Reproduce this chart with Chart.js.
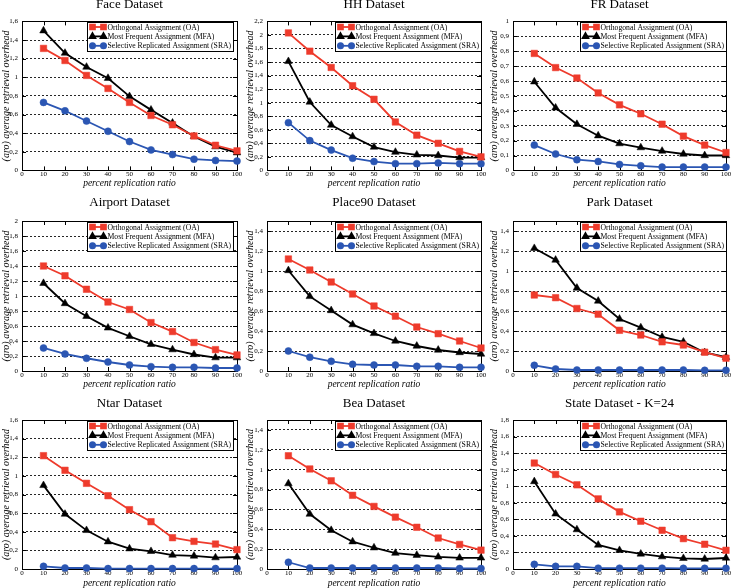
<!DOCTYPE html>
<html>
<head>
<meta charset="utf-8">
<script src="https://cdn.jsdelivr.net/npm/chart.js@4.4.0/dist/chart.umd.min.js"></script>
<style>
  html, body { margin: 0; padding: 0; background: #fff; overflow: hidden; }
  #page { position: relative; width: 732px; height: 588px; }
  #page canvas { position: absolute; }
</style>
</head>
<body>
<div id="page"></div>
<script>
// du lieu doc tu hinh
const xValues = [10, 20, 30, 40, 50, 60, 70, 80, 90, 100];
const seriesNames = ['Orthogonal Assignment (OA)', 'Most Frequent Assignment (MFA)', 'Selective Replicated Assignment (SRA)'];
const panelTitles = ['Face Dataset', 'HH Dataset', 'FR Dataset', 'Airport Dataset', 'Place90 Dataset', 'Park Dataset', 'Ntar Dataset', 'Bea Dataset', 'State Dataset - K=24'];
const yMaxes = [1.6, 2.2, 1, 2, 1.5, 1.5, 1.6, 1.5, 1.8];
const ySteps = [0.2, 0.2, 0.1, 0.2, 0.2, 0.2, 0.2, 0.2, 0.2];

const faceOA  = [1.31, 1.18, 1.02, 0.88, 0.73, 0.59, 0.49, 0.37, 0.27, 0.21];
const faceMFA = [1.50, 1.26, 1.11, 0.99, 0.795, 0.65, 0.51, 0.365, 0.255, 0.19];
const faceSRA = [0.73, 0.64, 0.53, 0.42, 0.31, 0.22, 0.17, 0.12, 0.107, 0.10];

const hhOA  = [2.03, 1.76, 1.52, 1.25, 1.05, 0.715, 0.52, 0.40, 0.28, 0.20];
const hhMFA = [1.61, 1.01, 0.67, 0.50, 0.345, 0.27, 0.23, 0.22, 0.19, 0.19];
const hhSRA = [0.705, 0.44, 0.30, 0.18, 0.13, 0.10, 0.10, 0.11, 0.10, 0.10];

const frOA  = [0.785, 0.69, 0.62, 0.52, 0.44, 0.38, 0.31, 0.23, 0.17, 0.12];
const frMFA = [0.595, 0.42, 0.31, 0.233, 0.18, 0.153, 0.13, 0.11, 0.10, 0.10];
const frSRA = [0.17, 0.11, 0.072, 0.06, 0.04, 0.031, 0.022, 0.022, 0.022, 0.022];

const airportOA  = [1.40, 1.27, 1.09, 0.92, 0.82, 0.646, 0.526, 0.38, 0.285, 0.214];
const airportMFA = [1.17, 0.90, 0.73, 0.575, 0.463, 0.356, 0.285, 0.22, 0.178, 0.178];
const airportSRA = [0.307, 0.227, 0.17, 0.12, 0.08, 0.058, 0.049, 0.049, 0.04, 0.04];

const place90OA  = [1.12, 1.01, 0.89, 0.77, 0.65, 0.548, 0.44, 0.373, 0.30, 0.23];
const place90MFA = [1.005, 0.746, 0.605, 0.464, 0.376, 0.30, 0.25, 0.21, 0.185, 0.17];
const place90SRA = [0.20, 0.138, 0.097, 0.067, 0.06, 0.06, 0.047, 0.047, 0.037, 0.037];

const parkOA  = [0.76, 0.733, 0.625, 0.568, 0.407, 0.36, 0.292, 0.26, 0.188, 0.128];
const parkMFA = [1.227, 1.11, 0.83, 0.70, 0.52, 0.434, 0.34, 0.292, 0.185, 0.138];
const parkSRA = [0.057, 0.02, 0.01, 0.01, 0.01, 0.01, 0.01, 0.01, 0.007, 0.007];

const ntarOA  = [1.217, 1.06, 0.92, 0.787, 0.637, 0.508, 0.336, 0.297, 0.268, 0.208];
const ntarMFA = [0.898, 0.59, 0.415, 0.293, 0.218, 0.19, 0.15, 0.14, 0.122, 0.129];
const ntarSRA = [0.029, 0.011, 0.011, 0.005, 0.005, 0.005, 0.005, 0.005, 0.005, 0.005];

const beaOA  = [1.14, 1.007, 0.888, 0.742, 0.63, 0.522, 0.42, 0.312, 0.247, 0.19];
const beaMFA = [0.86, 0.553, 0.39, 0.275, 0.214, 0.16, 0.139, 0.122, 0.112, 0.112];
const beaSRA = [0.068, 0.01, 0.01, 0.01, 0.01, 0.01, 0.01, 0.01, 0.005, 0.005];

const stateOA  = [1.28, 1.142, 1.017, 0.847, 0.69, 0.577, 0.468, 0.367, 0.299, 0.226];
const stateMFA = [1.057, 0.666, 0.476, 0.29, 0.226, 0.182, 0.149, 0.129, 0.121, 0.133];
const stateSRA = [0.056, 0.032, 0.032, 0.01, 0.01, 0.01, 0.01, 0.008, 0.008, 0.008];

const panelSeries = [
  [faceOA, faceMFA, faceSRA], [hhOA, hhMFA, hhSRA], [frOA, frMFA, frSRA],
  [airportOA, airportMFA, airportSRA], [place90OA, place90MFA, place90SRA], [parkOA, parkMFA, parkSRA],
  [ntarOA, ntarMFA, ntarSRA], [beaOA, beaMFA, beaSRA], [stateOA, stateMFA, stateSRA]
];

// kieu ve cho tung duong
const seriesColors = ['#ee3b2c', '#000000', '#2b56b3'];
const seriesPoints = ['rect', 'triangle', 'circle'];
const seriesRadius = [4.6, 4.4, 3.5];

// vi tri (toa do trang) cua cac o
const colPlotLeft = [22, 267, 513];
const colPlotRight = [237, 481, 726];
const colLegendInset = [4.5, 0.5, 0.5];
const rowTitleY = [4.6, 203, 404];
const rowPlotTop = [21, 221, 420];
const rowPlotBottom = [170, 371, 569];
const rowXTitleY = [183, 384, 583];

const SERIF = '"Liberation Serif", "Times New Roman", serif';

function fmt(v) {
  return String(Math.round(v * 100) / 100).replace('.', ',');
}

// khung, vach chia va chu thich ben trong
const framePlugin = {
  id: 'frameTicks',
  beforeDatasetsDraw(chart) {
    const {ctx, chartArea: a, scales} = chart;
    ctx.save();
    ctx.strokeStyle = '#000';
    ctx.lineWidth = 1;
    ctx.beginPath();
    scales.x.ticks.forEach(t => {
      const px = Math.round(scales.x.getPixelForValue(t.value)) + 0.5;
      ctx.moveTo(px, a.bottom); ctx.lineTo(px, a.bottom - 4);
      ctx.moveTo(px, a.top); ctx.lineTo(px, a.top + 4);
    });
    scales.y.ticks.forEach(t => {
      const py = Math.round(scales.y.getPixelForValue(t.value)) + 0.5;
      ctx.moveTo(a.left, py); ctx.lineTo(a.left + 4, py);
      ctx.moveTo(a.right, py); ctx.lineTo(a.right - 4, py);
    });
    ctx.stroke();
    ctx.strokeRect(Math.round(a.left) + 0.5, Math.round(a.top) + 0.5, Math.round(a.right - a.left), Math.round(a.bottom - a.top));
    ctx.restore();
  },
  afterDraw(chart, args, opts) {
    const {ctx, chartArea: a} = chart;
    const sets = chart.data.datasets;
    ctx.save();
    ctx.font = '7.7px ' + SERIF;
    let maxW = 0;
    sets.forEach(ds => { maxW = Math.max(maxW, ctx.measureText(ds.label).width); });
    const w = Math.round(20 + maxW + 2);
    const h = 29;
    const bx = Math.round(a.right - opts.inset - w) + 0.5;
    const by = Math.round(a.top + 1) + 0.5;
    ctx.fillStyle = '#fff';
    ctx.fillRect(bx, by, w, h);
    ctx.strokeStyle = '#000';
    ctx.lineWidth = 1;
    ctx.strokeRect(bx, by, w, h);
    sets.forEach((ds, i) => {
      const cy = by + 4.5 + i * 9.4;
      ctx.strokeStyle = ds.borderColor;
      ctx.fillStyle = ds.borderColor;
      ctx.lineWidth = 1.8;
      ctx.beginPath();
      ctx.moveTo(bx + 5, cy); ctx.lineTo(bx + 16, cy);
      ctx.stroke();
      const po = {pointStyle: ds.pointStyle, radius: ds.pointRadius * 0.75, borderWidth: 0.5, rotation: 0};
      Chart.helpers.drawPoint(ctx, po, bx + 5, cy);
      Chart.helpers.drawPoint(ctx, po, bx + 16, cy);
      ctx.fillStyle = '#000';
      ctx.textBaseline = 'middle';
      ctx.textAlign = 'left';
      ctx.fillText(ds.label, bx + 20, cy + 0.5);
    });
    ctx.restore();
  }
};

const page = document.getElementById('page');

panelTitles.forEach((title, idx) => {
  const col = idx % 3, row = Math.floor(idx / 3);
  const canvasLeft = col * 244;
  const canvasTop = rowTitleY[row] - 10;
  const canvasW = 244;
  const canvasH = Math.round(rowXTitleY[row] + 6 - canvasTop);
  const plotTop = rowPlotTop[row] - canvasTop;
  const plotBottom = rowPlotBottom[row] - canvasTop;
  const yAxisW = colPlotLeft[col] - canvasLeft;
  const padRight = canvasLeft + canvasW - colPlotRight[col];
  const padTop = 10 - 13 * 1.2 / 2;
  const titleBottomPad = plotTop - padTop - 13 * 1.2;
  const xAxisH = canvasH - plotBottom;

  const cv = document.createElement('canvas');
  cv.width = canvasW;
  cv.height = canvasH;
  cv.style.left = canvasLeft + 'px';
  cv.style.top = canvasTop + 'px';
  page.appendChild(cv);

  const datasets = panelSeries[idx].map((vals, s) => ({
    label: seriesNames[s],
    data: vals.map((v, k) => ({x: xValues[k], y: v})),
    borderColor: seriesColors[s],
    backgroundColor: seriesColors[s],
    pointBackgroundColor: seriesColors[s],
    pointBorderColor: seriesColors[s],
    pointBorderWidth: 0.5,
    pointStyle: seriesPoints[s],
    pointRadius: seriesRadius[s],
    borderWidth: 1.8,
    tension: 0,
    clip: false
  }));

  new Chart(cv.getContext('2d'), {
    type: 'line',
    data: { datasets: datasets },
    options: {
      responsive: false,
      animation: false,
      events: [],
      layout: { padding: { left: 0, right: padRight, top: padTop, bottom: 0 } },
      plugins: {
        legend: { display: false },
        tooltip: { enabled: false },
        title: {
          display: true,
          text: title,
          fullSize: false,
          color: '#000',
          font: { family: SERIF, size: 13, weight: 'normal', lineHeight: 1.2 },
          padding: { top: 0, bottom: titleBottomPad }
        },
        frameTicks: { inset: colLegendInset[col] }
      },
      scales: {
        x: {
          type: 'linear',
          min: 0,
          max: 100,
          grid: { display: false, drawTicks: false },
          border: { display: false },
          ticks: {
            stepSize: 10,
            autoSkip: false,
            maxRotation: 0,
            padding: 0,
            color: '#000',
            font: { family: SERIF, size: 7 }
          },
          title: {
            display: true,
            text: 'percent replication ratio',
            color: '#000',
            padding: 0,
            font: { family: SERIF, size: 9.5, style: 'italic' }
          },
          afterFit(scale) { scale.height = xAxisH; }
        },
        y: {
          type: 'linear',
          min: 0,
          max: yMaxes[idx],
          grid: { display: true, drawTicks: false, color: 'rgba(0,0,0,0.85)', lineWidth: 1 },
          border: { display: false, dash: [2, 2] },
          ticks: {
            stepSize: ySteps[idx],
            includeBounds: false,
            autoSkip: false,
            padding: 4,
            color: '#000',
            font: { family: SERIF, size: 7 },
            callback: (v) => fmt(v)
          },
          title: {
            display: true,
            text: '(aro) average retrieval overhead',
            color: '#000',
            padding: 0,
            font: { family: SERIF, size: 10, style: 'italic' }
          },
          afterFit(scale) { scale.width = yAxisW; }
        }
      }
    },
    plugins: [framePlugin]
  });
});
</script>
</body>
</html>
